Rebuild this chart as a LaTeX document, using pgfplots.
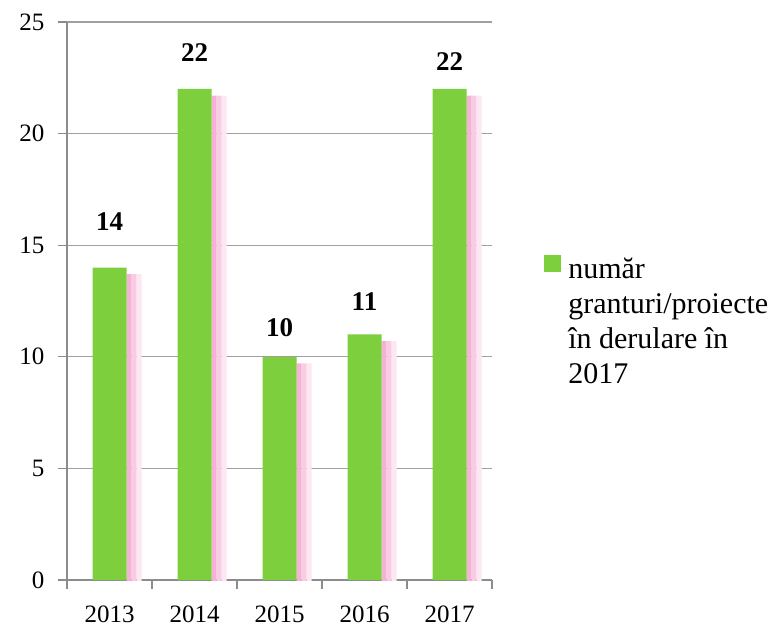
\documentclass[border=0pt]{standalone}
\usepackage{fontspec}
\setmainfont{Liberation Serif}
\usepackage{pgfplots}
\usepackage{pgfplotstable}
\pgfplotsset{compat=1.18}
\definecolor{bargreen}{RGB}{125,207,62}
\definecolor{shpinkA}{RGB}{246,178,214}
\definecolor{shpinkB}{RGB}{249,204,228}
\definecolor{shpinkC}{RGB}{253,231,243}
\definecolor{gridcol}{RGB}{160,160,160}
\definecolor{axcol}{RGB}{140,140,140}
\pgfplotstableread{
x y off
0 14 34.5
1 22 27
2 10 21.75
3 11 24.75
4 22 20.25
}\datatable
\begin{document}
\begin{tikzpicture}
\useasboundingbox (0,0) rectangle (588pt,469.5pt);
\begin{axis}[
  at={(50.25pt,34.5pt)}, anchor=south west,
  scale only axis, width=318.75pt, height=418.5pt,
  xmin=-0.5, xmax=4.5, ymin=0, ymax=25,
  axis x line*=bottom, axis y line*=left,
  axis line style={draw=axcol, line width=0.9pt, -},
  ymajorgrids, grid style={draw=gridcol, line width=0.9pt},
  ytick={0,5,...,25},
  xtick={-0.5,0.5,...,4.5},
  x tick label as interval,
  xticklabels={2013,2014,2015,2016,2017},
  tick align=outside, major tick length=6.5pt,
  tick style={draw=axcol, line width=0.9pt},
  ticklabel style={font=\fontsize{18.75pt}{22pt}\selectfont},
  /pgf/number format/assume math mode=true,
  yticklabel style={xshift=-7pt},
  xticklabel style={inner sep=0pt, yshift=-12.5pt},
  legend style={draw=none, fill=none, at={(1.113,0.588)}, anchor=north west,
    font=\fontsize{22.5pt}{26.25pt}\selectfont,
    nodes={inner sep=0pt}},
  legend cell align=left,
  legend image code/.code={\fill[bargreen] (0pt,-2.25pt) rectangle (12.75pt,10.5pt); \path (0pt,0pt) -- (18pt,0pt);},
]
\addplot[ybar, bar width=3.75pt, bar shift=14.625pt, draw=none, fill=shpinkA, yshift=-5pt, forget plot] table[x=x,y=y] {\datatable};
\addplot[ybar, bar width=3.75pt, bar shift=18.375pt, draw=none, fill=shpinkB, yshift=-5pt, forget plot] table[x=x,y=y] {\datatable};
\addplot[ybar, bar width=3.75pt, bar shift=22.125pt, draw=none, fill=shpinkC, yshift=-5pt, forget plot] table[x=x,y=y] {\datatable};
\addplot[ybar, bar width=25.5pt, bar shift=0pt, draw=none, fill=bargreen,
  visualization depends on={\thisrow{off} \as \off},
  nodes near coords,
  every node near coord/.append style={anchor=center, yshift=\off pt, font=\bfseries\fontsize{20.25pt}{24pt}\selectfont, text=black},
  ] table[x=x,y=y] {\datatable};
\addlegendentry{\parbox[t]{170pt}{\baselineskip=26.25pt\raggedright număr\\granturi/proiecte\\în derulare în\\2017}}
\end{axis}
\end{tikzpicture}
\end{document}
